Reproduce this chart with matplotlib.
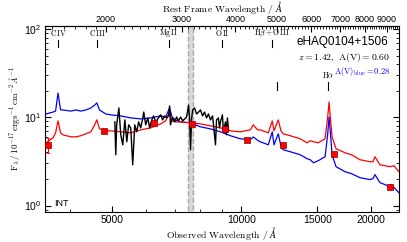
import numpy as np
import matplotlib
matplotlib.use('Agg')
import matplotlib.pyplot as plt
from matplotlib.ticker import FixedLocator, NullFormatter, FixedFormatter

plt.rcParams['font.family'] = ['Liberation Sans', 'DejaVu Sans']
plt.rcParams['mathtext.fontset'] = 'custom'
plt.rcParams['mathtext.rm'] = 'Liberation Sans'
plt.rcParams['mathtext.it'] = 'Liberation Sans:italic'
plt.rcParams['mathtext.bf'] = 'Liberation Sans:bold'

z = 1.42
obj_name = 'eHAQ0104+1506'
av = 0.60
av_blue = 0.28

# model composite, blue (A(V)_blue) and red (A(V))
model_wave = [3516, 3650, 3700, 3749, 3800, 3850, 4017, 4125, 4236, 4351, 4469, 4560, 4614, 4680,
              4841, 4971, 5244, 5531, 5834, 6154, 6490, 6666, 6808, 6900, 7030, 7221, 7614, 8033,
              8472, 8937, 9424, 9940, 10484, 10650, 10900, 11058, 11540, 11789, 11900, 12173, 12350,
              12501, 12977, 13688, 14200, 14435, 14700, 15064, 15636, 15850, 15974, 16100, 16231,
              16580, 17393, 18000, 18846, 19875, 20200, 20415, 20968, 22113, 22600, 23200]
blue_flux = [10.95, 11.5, 11.8, 18.9, 12.2, 12.15, 11.8, 12.15, 11.8, 12.15, 12.8, 13.8, 14.6, 12.15,
             10.95, 10.7, 10.4, 9.87, 9.62, 9.87, 10.4, 10.1, 12.8, 10.1, 9.37, 8.9, 8.67, 7.81,
             7.41, 6.86, 6.2, 5.72, 5.6, 6.0, 5.5, 5.29, 4.89, 6.86, 4.89, 6.51, 4.75,
             4.29, 4.08, 3.77, 3.40, 3.31, 3.06, 3.22, 3.58, 6.34, 10.1, 6.34, 3.77,
             2.76, 2.42, 2.30, 2.07, 1.97, 2.02, 2.24, 1.82, 1.64, 1.60, 1.40]
red_flux = [5.15, 5.87, 6.68, 9.13, 6.68, 6.34, 6.02, 6.02, 6.2, 6.51, 6.86, 8.23, 9.37, 7.41,
            7.04, 7.04, 6.86, 6.68, 7.22, 7.61, 8.45, 9.13, 11.5, 9.13, 8.9, 8.9, 8.67, 8.45,
            8.02, 7.61, 7.04, 6.86, 7.22, 8.23, 7.22, 7.22, 6.68, 9.13, 7.04, 9.37, 7.04,
            6.51, 6.2, 5.72, 5.15, 5.43, 5.3, 5.15, 5.72, 9.87, 14.96, 9.37, 6.02,
            4.41, 3.97, 3.77, 3.31, 3.14, 3.14, 3.58, 2.90, 2.76, 2.83, 2.42]

# observed INT spectrum
spec_wave = [5080, 5105, 5130, 5190, 5244, 5300, 5360, 5415, 5470, 5531, 5590, 5650, 5710, 5770,
             5834, 5900, 5930, 5992, 6060, 6120, 6190, 6250, 6319, 6390, 6490, 6560, 6630, 6700,
             6770, 6808, 6840, 6910, 6990, 7070, 7140, 7221, 7300, 7380, 7455, 7535, 7575, 7614,
             7655, 7700, 7780, 7865, 7950, 8033, 8120, 8205, 8295, 8380, 8472, 8565, 8610, 8702,
             8750, 8840, 8890, 8937, 9030, 9080, 9179, 9225, 9275, 9330]
spec_flux = [8.9, 3.77, 8.23, 12.8, 6.34, 4.89, 9.37, 5.29, 8.23, 7.61, 2.90, 8.23, 6.86, 8.9,
             7.61, 9.87, 11.5, 8.23, 9.87, 7.61, 9.37, 10.4, 8.9, 9.62, 10.7, 9.37, 10.4, 9.87,
             10.4, 13.5, 8.23, 9.87, 8.9, 10.1, 9.13, 10.1, 9.13, 9.62, 10.1, 13.8, 9.87, 4.29,
             9.37, 12.15, 12.8, 10.95, 11.5, 12.15, 10.4, 11.5, 9.87, 10.95, 9.37, 10.4, 8.23, 4.89,
             9.37, 9.87, 7.61, 8.9, 10.7, 6.86, 8.9, 6.34, 9.87, 7.22]

# photometry
phot_wave = [3550, 4790, 6250, 7660, 9180, 10320, 12500, 16400, 22100]
phot_flux = [4.89, 7.04, 8.67, 8.45, 7.41, 5.57, 4.89, 3.87, 1.64]
phot_err = [0.9, 0.2, 0.2, 0.2, 0.2, 0.2, 0.25, 0.2, 0.12]

# emission line markers (rest frame)
line_names_top = [r'$\rm C\,IV$', r'$\rm C\,III$', r'$\rm Mg\,II$', r'$\rm O\,II$', r'$\rm H\beta+O\,III$']
line_rest_top = [1549, 1909, 2800, 3727, 4861]
line_names_low = ['', r'$\rm H\alpha$']
line_rest_low = [5007, 6563]

rest_ticks = [2000, 3000, 4000, 5000, 6000, 7000, 8000, 9000]
obs_ticks = [5000, 10000, 15000, 20000]

fig = plt.figure(figsize=(4.07, 2.42), dpi=100)
ax = fig.add_axes([0.111, 0.126, 0.869, 0.765])

ax.axvspan(7530, 7700, facecolor='0.85', edgecolor='0.65', ls='--', lw=1, zorder=0)
ax.plot(model_wave, blue_flux, color='blue', lw=0.9, zorder=2)
ax.plot(model_wave, red_flux, color='red', lw=0.9, zorder=2)
ax.plot(spec_wave, spec_flux, color='black', lw=1.0, zorder=3)
ax.errorbar(phot_wave, phot_flux, yerr=phot_err, fmt='s', color='red', mec='darkred', mew=0.5,
            ms=4.5, ecolor='red', elinewidth=0.8, capsize=1.5, zorder=4)

ax.set_xscale('log')
ax.set_yscale('log')
ax.set_xlim(3500, 23200)
ax.set_ylim(0.855, 108)

ax.xaxis.set_major_locator(FixedLocator(obs_ticks))
ax.xaxis.set_major_formatter(FixedFormatter([str(t) for t in obs_ticks]))
ax.xaxis.set_minor_formatter(NullFormatter())
ax.tick_params(which='both', direction='in', top=False, right=True, labelsize=7.5, pad=2.5)
ax.tick_params(which='major', length=4)
ax.tick_params(which='minor', length=2)

trans = ax.get_xaxis_transform()
for name, w in zip(line_names_top, line_rest_top):
    ax.text(w * (1 + z), 0.962, name, transform=trans, ha='center', va='center', fontsize=5.5,
            math_fontfamily='cm')
    ax.plot([w * (1 + z)] * 2, [0.89, 0.925], transform=trans, color='black', lw=0.8)
for name, w in zip(line_names_low, line_rest_low):
    if name:
        ax.text(w * (1 + z), 0.737, name, transform=trans, ha='center', va='center', fontsize=5.5,
                math_fontfamily='cm')
    ax.plot([w * (1 + z)] * 2, [0.656, 0.70], transform=trans, color='black', lw=0.8)

ax.text(0.97, 0.915, obj_name, transform=ax.transAxes, ha='right', va='center', fontsize=8.5)
ax.text(0.975, 0.83, r'$z = 1.42,\ \mathrm{A(V)} = %.2f$' % av, transform=ax.transAxes,
        ha='right', va='center', fontsize=7, math_fontfamily='cm')
ax.text(0.975, 0.755, r'$\mathrm{A(V)_{blue}} = %.2f$' % av_blue, transform=ax.transAxes,
        ha='right', va='center', fontsize=6, color='blue', math_fontfamily='cm')
ax.text(0.025, 0.045, 'INT', transform=ax.transAxes, ha='left', va='center', fontsize=6.5)

ax.set_xlabel(r'$\mathrm{Observed\ Wavelength}\ /\ \AA$', fontsize=7, math_fontfamily='cm', labelpad=0)
ax.set_ylabel(r'$\mathrm{F}_\lambda\,/\,10^{-17}\,\mathrm{ergs}^{-1}\,\mathrm{cm}^{-2}\,\AA^{-1}$',
              fontsize=6.5, math_fontfamily='cm', labelpad=2)

secax = ax.secondary_xaxis('top', functions=(lambda w: w / (1 + z), lambda r: r * (1 + z)))
secax.xaxis.set_major_locator(FixedLocator(rest_ticks))
secax.xaxis.set_major_formatter(FixedFormatter([str(t) for t in rest_ticks]))
secax.xaxis.set_minor_locator(FixedLocator(np.arange(1500, 9600, 100)))
secax.xaxis.set_minor_formatter(NullFormatter())
secax.tick_params(which='both', direction='in', labelsize=6.5, pad=1.5)
secax.tick_params(which='major', length=4)
secax.tick_params(which='minor', length=2)
secax.set_xlabel(r'$\mathrm{Rest\ Frame\ Wavelength}\ /\ \AA$', fontsize=7, math_fontfamily='cm', labelpad=2.5)

fig.savefig('out.png', dpi=100)
